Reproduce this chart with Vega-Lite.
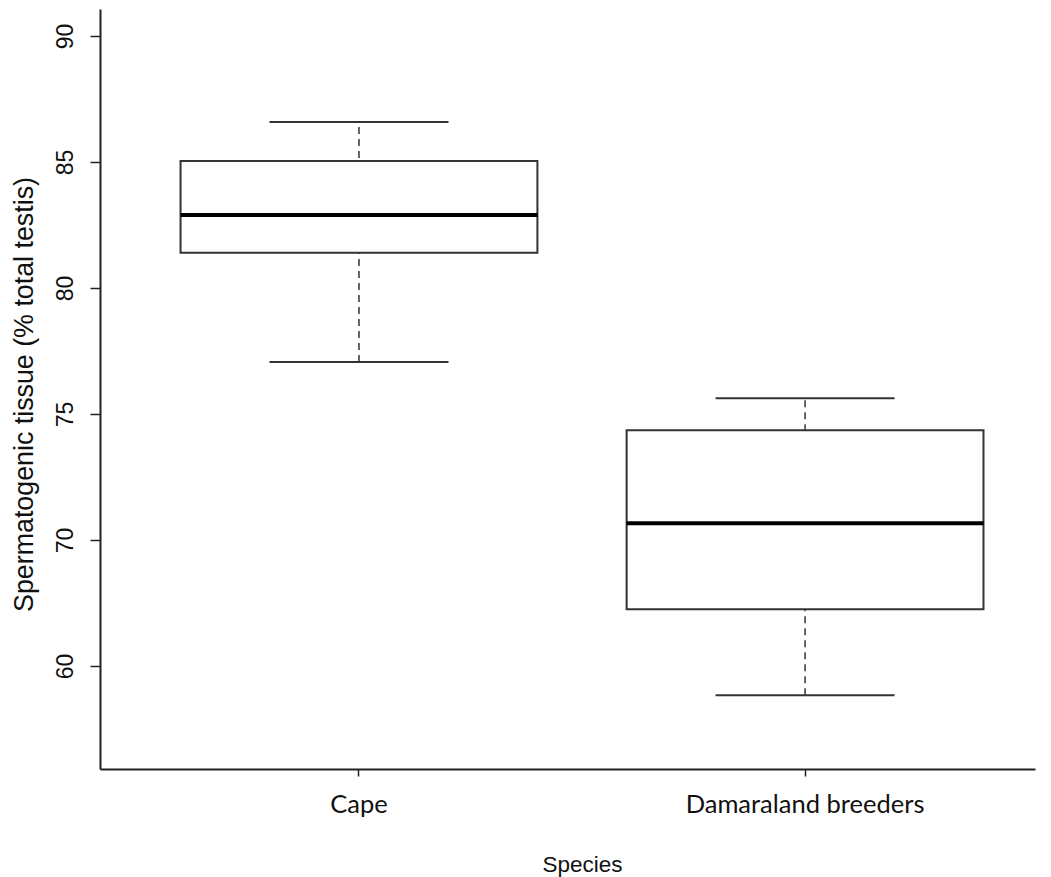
{
  "$schema": "https://vega.github.io/schema/vega-lite/v6.json",
  "width": 935,
  "height": 760,
  "autosize": {"type": "none"},
  "padding": {"left": 100, "top": 9, "right": 16, "bottom": 108},
  "background": "white",
  "config": {"view": {"stroke": null}},
  "data": {
    "values": [
      {"species": "Cape", "lower": 77.06, "q1": 81.40, "median": 82.90, "q3": 85.04, "upper": 86.59},
      {"species": "Damaraland breeders", "lower": 63.84, "q1": 67.25, "median": 70.66, "q3": 74.35, "upper": 75.62}
    ]
  },
  "encoding": {
    "x": {
      "field": "species",
      "type": "nominal",
      "sort": null,
      "scale": {"type": "band", "paddingInner": 0.2, "paddingOuter": 0.148, "align": 0.61},
      "axis": {
        "title": "Species",
        "domainColor": "#222",
        "domainWidth": 2,
        "tickColor": "#222",
        "tickWidth": 1.5,
        "tickSize": 7,
        "labelAngle": 0,
        "labelFont": "Lato",
        "labelFontSize": 25.5,
        "labelColor": "#111",
        "labelPadding": 36,
        "labelBaseline": "alphabetic",
        "labelLimit": 0,
        "titleFont": "Liberation Sans",
        "titleFontSize": 22.5,
        "titleFontWeight": "normal",
        "titleColor": "#111",
        "titleBaseline": "alphabetic",
        "titleAlign": "center",
        "titleX": 482,
        "titleY": 102,
        "grid": false
      }
    }
  },
  "layer": [
    {
      "mark": {"type": "rule", "strokeDash": [7, 5], "strokeWidth": 1.5, "color": "#333"},
      "encoding": {
        "y": {
          "field": "lower",
          "type": "quantitative",
          "scale": {"domain": [60.91, 91.07], "nice": false, "zero": false},
          "axis": {
            "title": "Spermatogenic tissue (% total testis)",
            "values": [65, 70, 75, 80, 85, 90],
            "labelExpr": "datum.value == 65 ? '60' : datum.label",
            "domainColor": "#222",
            "domainWidth": 2,
            "tickColor": "#222",
            "tickWidth": 1.5,
            "tickSize": 10,
            "labelAngle": -90,
            "labelAlign": "center",
            "labelBaseline": "alphabetic",
            "labelPadding": 18,
            "labelFont": "Liberation Sans",
            "labelFontSize": 23,
            "labelColor": "#111",
            "titleFont": "Liberation Sans",
            "titleFontSize": 26.8,
            "titleFontWeight": "normal",
            "titleColor": "#111",
            "titleAngle": -90,
            "titleBaseline": "alphabetic",
            "titleAlign": "center",
            "titleX": -68,
            "titleY": 385,
            "grid": false
          }
        },
        "y2": {"field": "upper"}
      }
    },
    {
      "mark": {"type": "bar", "fill": "white", "stroke": "#333", "strokeWidth": 2},
      "encoding": {
        "y": {"field": "q1", "type": "quantitative"},
        "y2": {"field": "q3"}
      }
    },
    {
      "mark": {"type": "tick", "orient": "horizontal", "color": "#000", "thickness": 4, "size": 357, "opacity": 1},
      "encoding": {
        "y": {"field": "median", "type": "quantitative"}
      }
    },
    {
      "mark": {"type": "tick", "orient": "horizontal", "color": "#333", "thickness": 2, "size": 179, "opacity": 1},
      "encoding": {
        "y": {"field": "upper", "type": "quantitative"}
      }
    },
    {
      "mark": {"type": "tick", "orient": "horizontal", "color": "#333", "thickness": 2, "size": 179, "opacity": 1},
      "encoding": {
        "y": {"field": "lower", "type": "quantitative"}
      }
    }
  ]
}
